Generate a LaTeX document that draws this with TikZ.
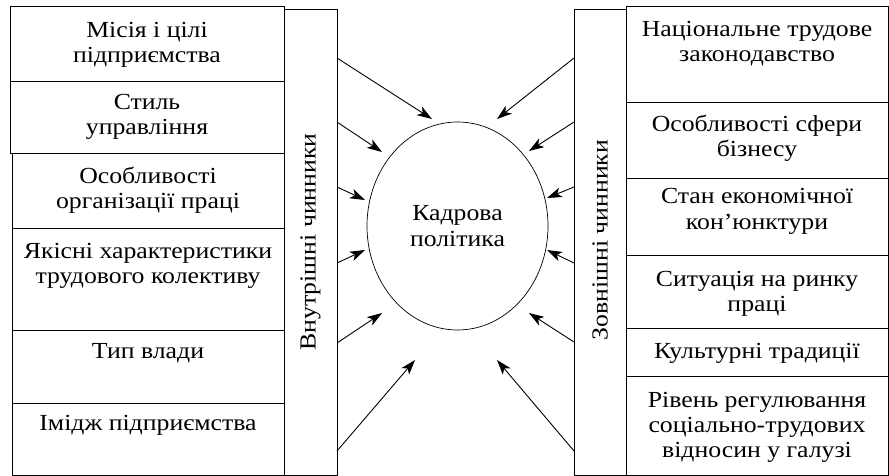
\documentclass[tikz,border=0pt]{standalone}
\usepackage{fontspec}
\setmainfont{Liberation Serif}[FakeStretch=1.12]
\usetikzlibrary{shapes.geometric,arrows.meta}
\tikzset{
  box/.style={line width=1pt},
  txt/.style={anchor=base,align=center,inner sep=0pt,font=\fontsize{23}{25}\selectfont},
  side/.style={rotate=90,inner sep=0pt,font=\fontsize{23}{25}\selectfont},
  arr/.style={line width=0.9pt,-{Stealth[length=15pt,width=10pt,inset=4pt]}},
}
\begin{document}
\begin{tikzpicture}[x=1pt,y=-1pt]
 \useasboundingbox (0,0) rectangle (889,476);
 % internal factors
 \draw[box](10,7) rectangle (284,82);
 \draw[box](10,82) rectangle (284,154);
 \draw[box](12,154) rectangle (284,228);
 \draw[box](12,228) rectangle (284,330);
 \draw[box](12,330) rectangle (284,403);
 \draw[box](12,403) rectangle (284,475);
 \node[txt] (misiya) at (147,63) {Місія і цілі\\підприємства};
 \node[txt] (styl) at (147,135) {Стиль\\управління};
 \node[txt] (orgpr) at (148,208) {Особливості\\організації праці};
 \node[txt] (yakist) at (148,283) {Якісні характеристики\\трудового колективу};
 \node[txt] (vlada) at (148,358) {Тип влади};
 \node[txt] (imidzh) at (148,430) {Імідж підприємства};
 \draw[box](284,10) rectangle (337,475);
 \node[side] (vnutr) at (310.5,242) {Внутрішні чинники};
 % external factors
 \draw[box](574,10) rectangle (626,475);
 \node[side] (zovn) at (600,240) {Зовнішні чинники};
 \draw[box](626,7) rectangle (888,103);
 \draw[box](626,103) rectangle (888,178);
 \draw[box](626,178) rectangle (888,255);
 \draw[box](626,255) rectangle (888,328);
 \draw[box](626,328) rectangle (888,376);
 \draw[box](626,376) rectangle (888,475);
 \node[txt] (zakon) at (757,62) {Національне трудове\\законодавство};
 \node[txt] (biznes) at (757,157) {Особливості сфери\\бізнесу};
 \node[txt] (konyun) at (757,229) {Стан економічної\\кон’юнктури};
 \node[txt] (rynok) at (757,311) {Ситуація на ринку\\праці};
 \node[txt] (kult) at (757,358) {Культурні традиції};
 \node[txt] (regul) at (757,457) {Рівень регулювання\\соціально-трудових\\відносин у галузі};
 % centre
 \node[draw,ellipse,line width=0.7pt,minimum width=181,minimum height=208,inner sep=0pt,
   align=center,font=\fontsize{23}{26}\selectfont] (kp) at (457.5,226) {Кадрова\\політика};
 % arrows
 \coordinate (l1) at (337,58);  \coordinate (l1t) at (432,119);
 \coordinate (l2) at (337,122); \coordinate (l2t) at (382,152);
 \coordinate (l3) at (337,187); \coordinate (l3t) at (365,200);
 \coordinate (l4) at (337,263); \coordinate (l4t) at (365,250);
 \coordinate (l5) at (337,343); \coordinate (l5t) at (382,313);
 \coordinate (l6) at (337,451); \coordinate (l6t) at (415,360);
 \coordinate (r1) at (574,58);  \coordinate (r1t) at (497,119);
 \coordinate (r2) at (574,122); \coordinate (r2t) at (529,151);
 \coordinate (r3) at (574,187); \coordinate (r3t) at (547,198);
 \coordinate (r4) at (574,263); \coordinate (r4t) at (547,250);
 \coordinate (r5) at (574,342); \coordinate (r5t) at (529,313);
 \coordinate (r6) at (574,451); \coordinate (r6t) at (497,360);
 \draw[arr](l1)--(l1t);
 \draw[arr](l2)--(l2t);
 \draw[arr](l3)--(l3t);
 \draw[arr](l4)--(l4t);
 \draw[arr](l5)--(l5t);
 \draw[arr](l6)--(l6t);
 \draw[arr](r1)--(r1t);
 \draw[arr](r2)--(r2t);
 \draw[arr](r3)--(r3t);
 \draw[arr](r4)--(r4t);
 \draw[arr](r5)--(r5t);
 \draw[arr](r6)--(r6t);
\end{tikzpicture}
\end{document}
